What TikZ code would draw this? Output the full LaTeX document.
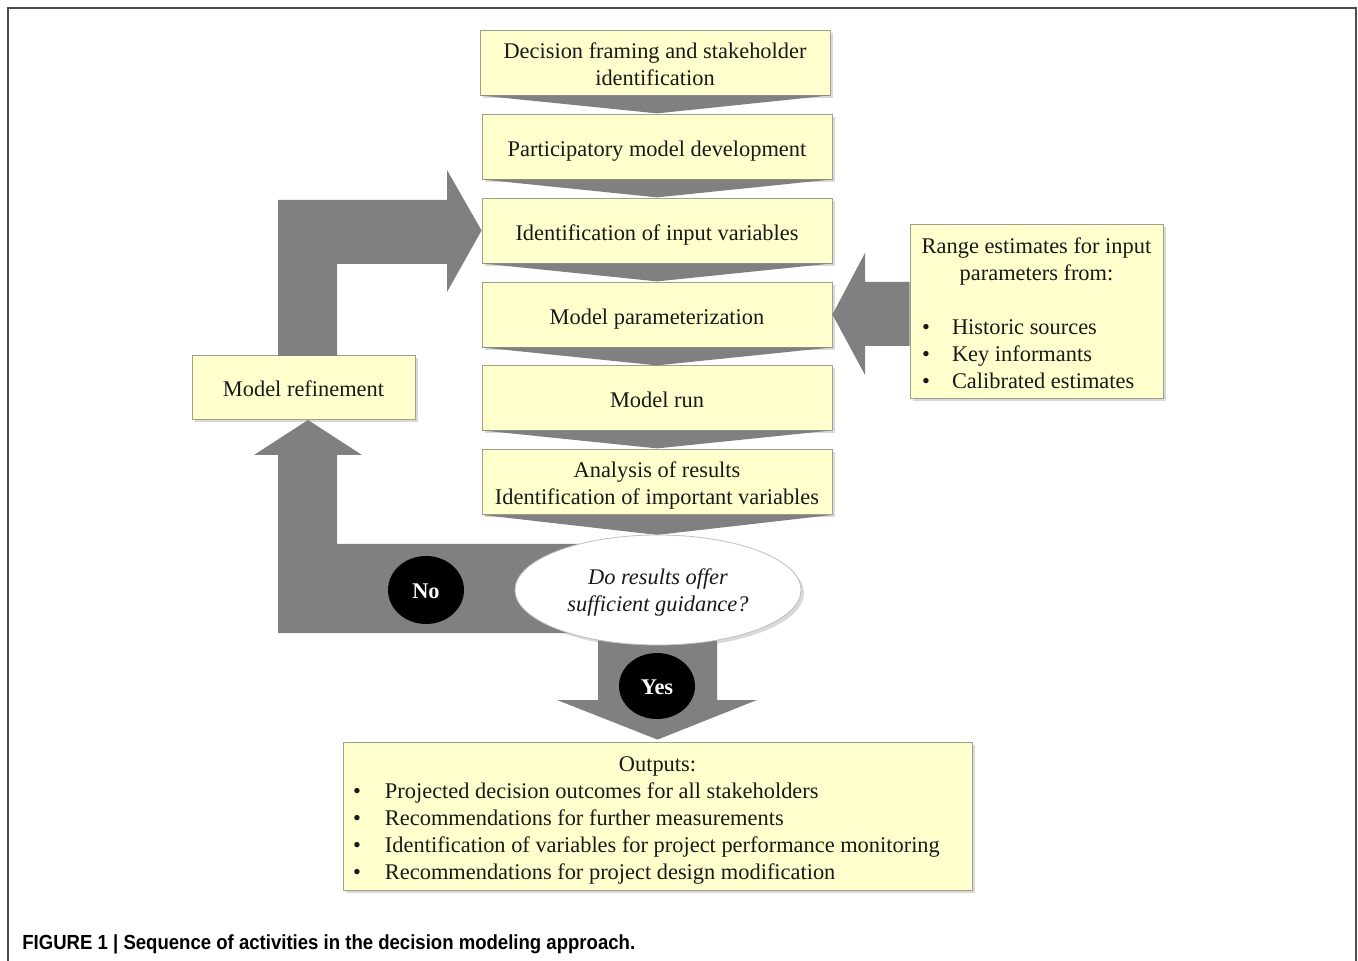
\documentclass[tikz,border=0pt]{standalone}
\usepackage{fontspec}
\setmainfont{Liberation Serif}
\newfontfamily\capfont[FakeStretch=0.91]{Liberation Sans}
\usetikzlibrary{shadows,shapes.geometric,calc}
\definecolor{boxfill}{RGB}{255,255,206}
\definecolor{boxline}{RGB}{160,160,140}
\definecolor{arrowgray}{RGB}{128,128,128}
\definecolor{txt}{RGB}{25,25,25}
\newcommand\topstrut[1]{\rule{0pt}{\dimexpr7.7pt+#1\relax}}
\tikzset{
  stepbox/.style={draw=boxline, line width=0.4pt, fill=boxfill,
    minimum width=175pt, minimum height=32.5pt, inner sep=0pt, align=center,
    font=\fontsize{11.2}{13.5}\selectfont, text=txt,
    drop shadow={shadow xshift=1.5pt, shadow yshift=-1.5pt, opacity=0.3}},
  oneline/.style={text height=12pt, text depth=2pt},
  chev/.style={fill=arrowgray},
  blockarrow/.style={fill=arrowgray},
  badge/.style={ellipse, fill=black, text=white, minimum width=38pt,
    minimum height=34pt, inner sep=0pt, font=\fontsize{11.2}{13.5}\selectfont\bfseries},
  question/.style={ellipse, fill=white, draw=gray!50, line width=0.4pt,
    minimum width=143pt, minimum height=55pt, inner sep=0pt, align=center,
    font=\fontsize{11.2}{13.5}\selectfont\itshape, text=txt,
    drop shadow={shadow xshift=1.5pt, shadow yshift=-1.5pt, opacity=0.3}},
}
\begin{document}
\begin{tikzpicture}[x=0.5pt, y=-0.5pt]
\useasboundingbox (0,0) rectangle (1358,961);
\draw[gray!60!black, line width=1pt] (8,961) -- (8,8) -- (1356,8) -- (1356,961);

% main steps
\node[stepbox] (b1) at (655,62.5) {\topstrut{2pt}Decision framing and stakeholder\\identification};
\node[stepbox, oneline] (b2) at (657,146.5) {Participatory model development};
\node[stepbox, oneline] (b3) at (657,230.5) {Identification of input variables};
\node[stepbox, oneline] (b4) at (657,314.5) {Model parameterization};
\node[stepbox, oneline] (b5) at (657,397.5) {Model run};
\node[stepbox] (b6) at (657,482) {\topstrut{3.5pt}Analysis of results\\Identification of important variables};

% chevrons between steps
\fill[chev] (b1.south west) -- (b1.south east) -- ($(b1.south)+(2,18)$) -- cycle;
\fill[chev] (b2.south west) -- (b2.south east) -- ($(b2.south)+(0,18)$) -- cycle;
\fill[chev] (b3.south west) -- (b3.south east) -- ($(b3.south)+(0,18)$) -- cycle;
\fill[chev] (b4.south west) -- (b4.south east) -- ($(b4.south)+(0,18)$) -- cycle;
\fill[chev] (b5.south west) -- (b5.south east) -- ($(b5.south)+(0,18)$) -- cycle;
\fill[chev] (b6.south west) -- (b6.south east) -- ($(b6.south)+(0,20)$) -- cycle;

% refinement box
\node[stepbox, oneline, minimum width=111.5pt, minimum height=32pt] (mr) at (303.5,387) {Model refinement};

% loop arrow: refinement -> identification of input variables
\fill[blockarrow] (278,356) -- (278,200) -- (447,200) -- (447,170) -- (b3.west)
  -- (447,292) -- (447,264) -- (337,264) -- (337,356) -- cycle;

% No arrow: question -> refinement
\fill[blockarrow] (600,544) -- (337,544) -- (337,455) -- (362,455) -- (308,420)
  -- (254,455) -- (278,455) -- (278,633) -- (600,633) -- cycle;

% range estimates box
\node[stepbox, minimum width=126.5pt, minimum height=87pt, align=left] (rng) at (1036.5,311) {%
\begin{minipage}{126.5pt}
\vspace*{2pt}
{\centering Range estimates for input\\ parameters from:\par}
\vspace{13.5pt}
\hspace*{6pt}\makebox[15pt][l]{\textbullet}Historic sources\\
\hspace*{6pt}\makebox[15pt][l]{\textbullet}Key informants\\
\hspace*{6pt}\makebox[15pt][l]{\textbullet}Calibrated estimates
\end{minipage}};

% range arrow -> parameterization
\fill[blockarrow] (rng.west |- 0,282) -- (865,282) -- (865,253) -- (b4.east)
  -- (865,375) -- (865,346) -- (rng.west |- 0,346) -- cycle;

% outputs box
\node[stepbox, minimum width=314.5pt, minimum height=74pt, align=left] (out) at (657.5,816) {%
\begin{minipage}{314.5pt}
\vspace*{4pt}
{\centering Outputs:\par}
\hspace*{5pt}\makebox[16pt][l]{\textbullet}Projected decision outcomes for all stakeholders\\
\hspace*{5pt}\makebox[16pt][l]{\textbullet}Recommendations for further measurements\\
\hspace*{5pt}\makebox[16pt][l]{\textbullet}Identification of variables for project performance monitoring\\
\hspace*{5pt}\makebox[16pt][l]{\textbullet}Recommendations for project design modification
\end{minipage}};

% Yes arrow: question -> outputs
\fill[blockarrow] (598,625) -- (598,700) -- (557,700) -- ($(out.north)+(0,-2)$)
  -- (757,700) -- (717,700) -- (717,625) -- cycle;

% decision
\node[question] (q) at (658,590) {\topstrut{3pt}Do results offer\\sufficient guidance?};
\node[badge, text height=8.4pt, text depth=0pt] (no) at (426,590) {No};
\node[badge, minimum height=33pt, text height=8.4pt, text depth=0pt] (yes) at (657,686) {Yes};

% caption
\node[anchor=base west, inner sep=0pt, font=\capfont\bfseries\fontsize{10.2}{12}\selectfont, text=black] (cap) at (22,949)
  {FIGURE 1 | Sequence of activities in the decision modeling approach.};
\end{tikzpicture}
\end{document}
